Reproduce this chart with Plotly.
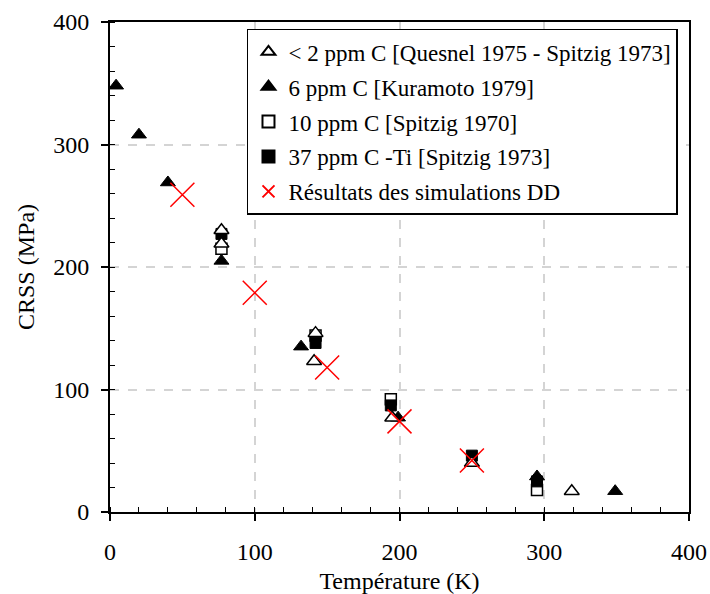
import plotly.graph_objects as go

# Data
t_lt2 = [77, 77, 142, 141, 195, 250, 319]
s_lt2 = [230, 219, 146, 123, 77, 40, 17]

t_6 = [4.2, 20, 40, 77, 132, 199, 295, 349]
s_6 = [348, 308, 269, 205, 135, 77, 29, 17]

t_10 = [77, 142, 194, 295]
s_10 = [215, 144, 92, 18]

t_37 = [77, 142, 194, 250, 295]
s_37 = [227, 138, 87, 46, 25]

t_dd = [50, 100, 150, 200, 250]
s_dd = [259, 179, 118, 74, 42]

names = [
    "< 2 ppm C [Quesnel 1975 - Spitzig 1973]",
    "6 ppm C [Kuramoto 1979]",
    "10 ppm C [Spitzig 1970]",
    "37 ppm C -Ti [Spitzig 1973]",
    "Résultats des simulations DD",
]

x_ticks = [0, 100, 200, 300, 400]
y_ticks = [0, 100, 200, 300, 400]

FONT = "Liberation Serif"

fig = go.Figure()

fig.add_trace(go.Scatter(
    x=t_6, y=s_6, mode="markers", name=names[1], legendgroup="b", legendrank=2,
    marker=dict(symbol="triangle-up", size=13, color="black",
                line=dict(color="black", width=1))))
fig.add_trace(go.Scatter(
    x=t_10, y=s_10, mode="markers", name=names[2], legendgroup="c", legendrank=3,
    marker=dict(symbol="square", size=11, color="white",
                line=dict(color="black", width=1.5))))
fig.add_trace(go.Scatter(
    x=t_37, y=s_37, mode="markers", name=names[3], legendgroup="d", legendrank=4,
    marker=dict(symbol="square", size=11, color="black",
                line=dict(color="black", width=1))))
fig.add_trace(go.Scatter(
    x=t_lt2, y=s_lt2, mode="markers", name=names[0], legendgroup="a", legendrank=1,
    marker=dict(symbol="triangle-up", size=13, color="white",
                line=dict(color="black", width=1.5))))
fig.add_trace(go.Scatter(
    x=t_dd, y=s_dd, mode="markers", name=names[4], legendgroup="e", legendrank=5,
    marker=dict(symbol="x-thin-open", size=24, color="red",
                line=dict(color="red", width=1.5))))

axis_common = dict(
    showline=True, linecolor="black", linewidth=1.8, mirror=True,
    ticks="outside", ticklen=7, tickwidth=1.5, tickcolor="black",
    showgrid=True, gridcolor="#d4d4d4", griddash="dash", gridwidth=1.5,
    zeroline=False, automargin=False,
    minor=dict(ticks="inside", ticklen=5, tickwidth=1.2, tickcolor="black",
               dtick=20, showgrid=False),
)

fig.update_xaxes(
    range=[0, 400], tickvals=x_ticks, ticktext=[str(v) for v in x_ticks],
    tickfont=dict(family=FONT, size=24, color="black"),
    title=dict(text="Température (K)", font=dict(family=FONT, size=24, color="black"),
               standoff=8),
    ticklabelstandoff=10,
    **axis_common)
fig.update_yaxes(
    range=[0, 400], tickvals=y_ticks, ticktext=[str(v) for v in y_ticks],
    tickfont=dict(family=FONT, size=24, color="black"),
    title=dict(text="CRSS (MPa)", font=dict(family=FONT, size=24, color="black"),
               standoff=12),
    ticklabelstandoff=7,
    **axis_common)

fig.update_layout(
    template="none",
    width=710, height=594,
    margin=dict(l=110, r=21, t=22, b=82),
    plot_bgcolor="white", paper_bgcolor="white",
    font=dict(family=FONT, size=20, color="black"),
    legend=dict(
        x=0.2366, y=0.986, xanchor="left", yanchor="top",
        bgcolor="white", bordercolor="black", borderwidth=1.5,
        font=dict(family=FONT, size=23, color="black"),
        tracegroupgap=2, itemsizing="constant",
    ),
    showlegend=True,
)

fig.write_html("out.html")
